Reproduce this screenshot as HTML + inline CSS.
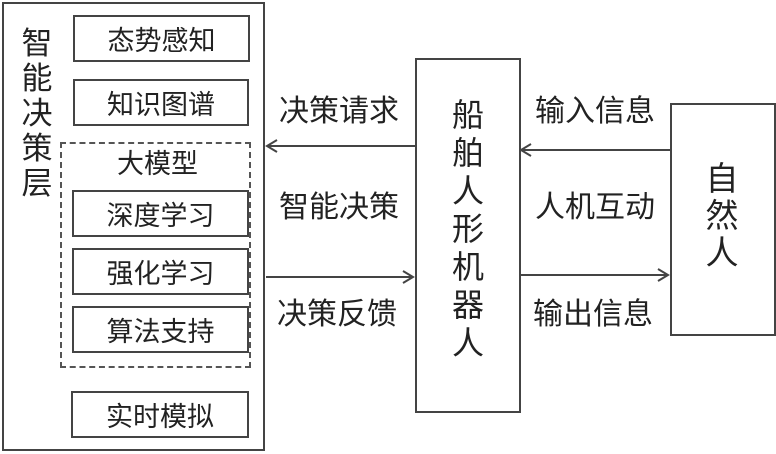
<!DOCTYPE html>
<html><head><meta charset="utf-8"><style>
body{margin:0;width:776px;height:454px;background:#fff;position:relative;overflow:hidden;font-family:"Liberation Sans","Noto Sans CJK SC",sans-serif;color:#222}
.b{position:absolute;border:2px solid #444;box-sizing:border-box;display:flex;align-items:center;justify-content:center;font-size:27px}
.t{position:absolute;font-size:30px;white-space:nowrap;line-height:1}
.v{position:absolute;font-size:31px;line-height:36px;width:40px;text-align:center}
</style></head><body>
<div class="b" style="left:2px;top:2px;width:263px;height:449px"></div>
<div class="v" style="left:17px;top:26px;font-size:31px;line-height:35px">智<br>能<br>决<br>策<br>层</div>
<div class="b" style="left:73px;top:15px;width:177px;height:47px">态势感知</div>
<div class="b" style="left:73px;top:79px;width:176px;height:47px">知识图谱</div>
<div style="position:absolute;left:60px;top:142px;width:191px;height:226px;border:2px dashed #555;box-sizing:border-box"></div>
<div class="t" style="left:117px;top:151px;font-size:27px">大模型</div>
<div class="b" style="left:72px;top:190px;width:177px;height:47px">深度学习</div>
<div class="b" style="left:72px;top:248px;width:177px;height:47px">强化学习</div>
<div class="b" style="left:72px;top:306px;width:177px;height:47px">算法支持</div>
<div class="b" style="left:71px;top:391px;width:178px;height:47px">实时模拟</div>
<div class="b" style="left:415px;top:58px;width:106px;height:355px"></div>
<div class="v" style="left:448px;top:96px;font-size:32px;line-height:38px">船<br>舶<br>人<br>形<br>机<br>器<br>人</div>
<div class="b" style="left:670px;top:103px;width:106px;height:233px"></div>
<div class="v" style="left:702px;top:160px;font-size:33px;line-height:37px">自<br>然<br>人</div>
<div class="t" style="left:279px;top:97px">决策请求</div>
<div class="t" style="left:279px;top:193px">智能决策</div>
<div class="t" style="left:277px;top:300px">决策反馈</div>
<div class="t" style="left:535px;top:97px">输入信息</div>
<div class="t" style="left:535px;top:193px">人机互动</div>
<div class="t" style="left:533px;top:300px">输出信息</div>
<svg width="776" height="454" style="position:absolute;left:0;top:0" fill="none" stroke="#444" stroke-width="2">
<path d="M415 146H267M277 140L267 146L277 152"/>
<path d="M266 277H413M403 271L413 277L403 283"/>
<path d="M670 150H521M531 144L521 150L531 156"/>
<path d="M521 275H668M658 269L668 275L658 281"/>
</svg>
</body></html>
